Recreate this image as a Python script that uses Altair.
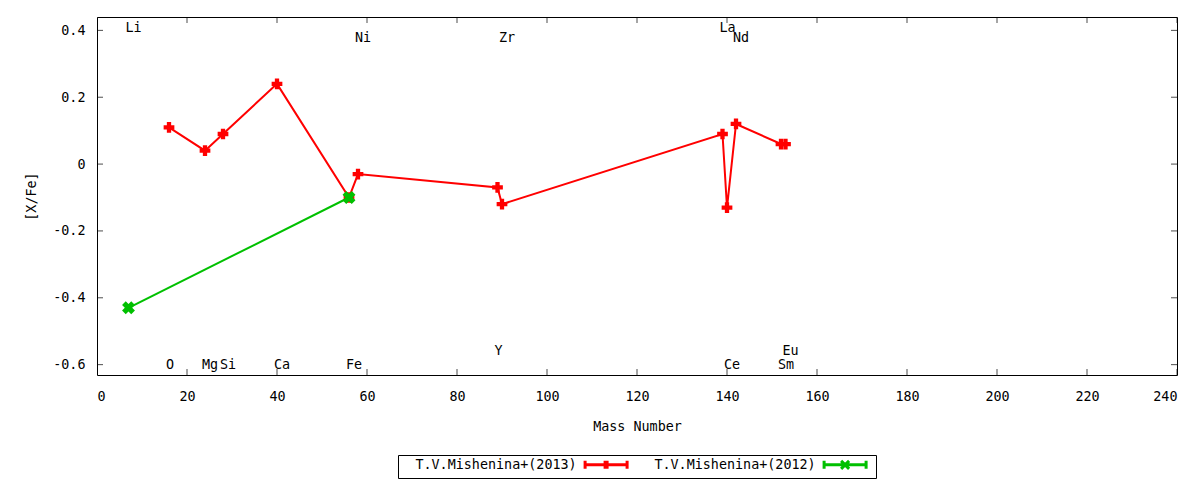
import altair as alt
import pandas as pd

SERIES = ["T.V.Mishenina+(2013)", "T.V.Mishenina+(2012)"]
COLORS = ["#ff0000", "#00c000"]

RED_MASS = [16, 24, 28, 40, 56, 58, 89, 90, 139, 140, 142, 152, 153]
RED_XFE = [0.11, 0.04, 0.09, 0.24, -0.10, -0.03, -0.07, -0.12, 0.09, -0.13, 0.12, 0.06, 0.06]
GREEN_MASS = [7, 56]
GREEN_XFE = [-0.43, -0.10]

LABEL_TEXT = ["Li", "O", "Mg", "Si", "Ca", "Fe", "Ni", "Y", "Zr", "La", "Ce", "Nd", "Sm", "Eu"]
LABEL_MASS = [7, 16, 24, 28, 40, 56, 58, 89, 90, 139, 140, 142, 152, 153]
LABEL_ROW = ["top", "bottom", "bottom", "bottom", "bottom", "bottom", "top2",
             "bottom2", "top2", "top", "bottom", "top2", "bottom", "bottom2"]

X_TICKS = list(range(0, 241, 20))
Y_TICKS = [-0.6, -0.4, -0.2, 0, 0.2, 0.4]
X_DOMAIN = [0, 240]
Y_DOMAIN = [-0.631, 0.44]
ROW_Y = {"top": 0.406, "top2": 0.376, "bottom": -0.6, "bottom2": -0.558}

FONT = "DejaVu Sans Mono"
FS = 13.4

pts = pd.DataFrame({
    "mass": RED_MASS + GREEN_MASS,
    "xfe": RED_XFE + GREEN_XFE,
    "series": [SERIES[0]] * len(RED_MASS) + [SERIES[1]] * len(GREEN_MASS),
})
red = pts[pts.series == SERIES[0]]
green = pts[pts.series == SERIES[1]]

labels = pd.DataFrame({
    "mass": LABEL_MASS,
    "xfe": [ROW_Y[r] for r in LABEL_ROW],
    "label": LABEL_TEXT,
})

x = alt.X("mass:Q", scale=alt.Scale(domain=X_DOMAIN, nice=False, zero=False),
          axis=alt.Axis(values=X_TICKS, title="Mass Number", labelPadding=14, titlePadding=17))
y = alt.Y("xfe:Q", scale=alt.Scale(domain=Y_DOMAIN, nice=False, zero=False),
          axis=alt.Axis(values=Y_TICKS, title="[X/Fe]", labelPadding=12, titlePadding=14,
                        labelExpr="datum.value == 0 ? '0' : replace(format(datum.value, '.1f'), '\u2212', '-')"))
color_scale = alt.Scale(domain=SERIES, range=COLORS)


def sym(centre, marker):
    """Legend symbol path (unit = 5px): line with end caps and a centre marker, shifted right of the label."""
    c = centre
    base = f"M{c-4.2:.2f},0H{c+4.2:.2f}M{c-4.2:.2f},-0.8V0.8M{c+4.2:.2f},-0.8V0.8"
    if marker == "plus":
        m = f"M{c-0.2:.2f},-0.8V0.8M{c+0.2:.2f},-0.8V0.8"
    else:
        m = f"M{c-0.8:.2f},-0.8L{c+0.8:.2f},0.8M{c-0.8:.2f},0.8L{c+0.8:.2f},-0.8"
    return base + m


SHIFT = 39.68
RED_SYM = sym(SHIFT, "plus")
GREEN_SYM = sym(SHIFT, "x")
shape_scale = alt.Scale(domain=SERIES, range=[RED_SYM, GREEN_SYM])

legend = alt.Legend(
    title=None, orient="none", legendX=301, legendY=438, direction="horizontal",
    strokeColor="black", fillColor="white", padding=3, cornerRadius=0,
    labelFont=FONT, labelFontSize=FS, labelColor="black", labelLimit=300,
    labelAlign="left", labelOffset=1,
    symbolSize=100, symbolStrokeWidth=3, symbolFillColor="transparent", symbolOpacity=1,
    columnPadding=6,
)

color = alt.Color("series:N", scale=color_scale)

legend_layer = alt.Chart(pts).transform_filter("false").mark_point(
    filled=False, strokeWidth=3, opacity=1).encode(
    x=x, y=y,
    color=alt.Color("series:N", scale=color_scale, legend=legend),
    shape=alt.Shape("series:N", scale=shape_scale, legend=legend))
lines = alt.Chart(pts).mark_line(strokeWidth=2, opacity=1).encode(x=x, y=y, color=color)
red_pts = alt.Chart(red).mark_point(shape="cross", filled=True, size=115, opacity=1).encode(
    x=x, y=y, color=color)
green_pts = alt.Chart(green).mark_point(shape="cross", angle=45, filled=True, size=170, opacity=1).encode(
    x=x, y=y, color=color)

xt_bottom = pd.DataFrame({"mass": X_TICKS, "xfe": [Y_DOMAIN[0]] * len(X_TICKS)})
xt_top = pd.DataFrame({"mass": X_TICKS, "xfe": [Y_DOMAIN[1]] * len(X_TICKS)})
yt_left = pd.DataFrame({"mass": [X_DOMAIN[0]] * len(Y_TICKS), "xfe": Y_TICKS})
yt_right = pd.DataFrame({"mass": [X_DOMAIN[1]] * len(Y_TICKS), "xfe": Y_TICKS})
xticks = alt.Chart(pd.concat([xt_bottom, xt_top])).mark_tick(
    orient="vertical", size=12, thickness=1, color="black", clip=True).encode(x=x, y=y)
yticks = alt.Chart(pd.concat([yt_left, yt_right])).mark_tick(
    orient="horizontal", size=12, thickness=1, color="black", clip=True).encode(x=x, y=y)

text = alt.Chart(labels).mark_text(
    align="left", dx=-3, baseline="middle", font=FONT, fontSize=FS, color="black").encode(
    x=x, y=y, text="label:N")

chart = alt.layer(legend_layer, xticks, yticks, lines, red_pts, green_pts, text).properties(
    width=1080, height=358,
    padding={"left": 89, "top": 9, "right": 15, "bottom": 105},
    autosize=alt.AutoSizeParams(type="none"),
).configure_view(stroke="black", strokeWidth=1).configure_axis(
    labelFont=FONT, labelFontSize=FS, labelColor="black",
    titleFont=FONT, titleFontSize=FS, titleFontWeight="normal", titleColor="black",
    ticks=False, tickSize=0, domain=False, grid=False,
)

chart.save("out.html", embed_options={"renderer": "svg", "actions": False})
